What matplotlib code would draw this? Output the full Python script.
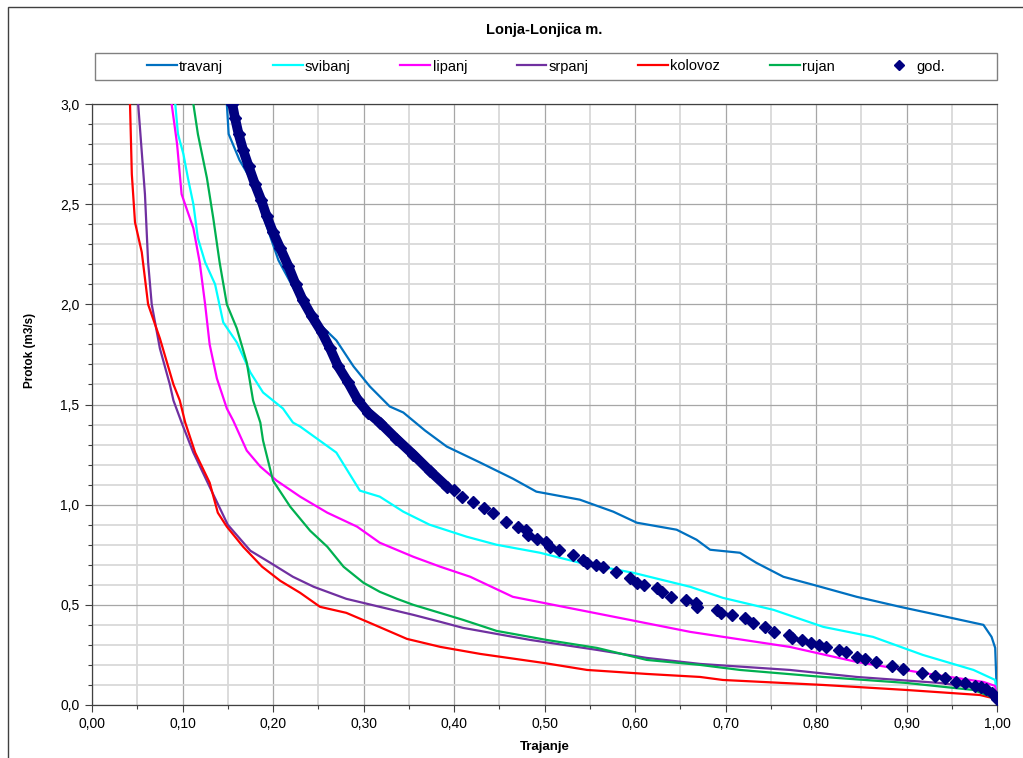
import matplotlib
matplotlib.use("Agg")
import matplotlib.pyplot as plt
from matplotlib.patches import Rectangle
from matplotlib.ticker import MultipleLocator, FuncFormatter

plt.rcParams["font.family"] = ["Liberation Sans", "DejaVu Sans"]

# -----------------------------
# data (duration, flow m3/s)
# -----------------------------
travanj_x = [0.149, 0.151, 0.163, 0.176, 0.187, 0.206, 0.230, 0.254, 0.270, 0.289, 0.307,
             0.329, 0.344, 0.368, 0.392, 0.429, 0.465, 0.491, 0.539, 0.576, 0.602, 0.646,
             0.668, 0.683, 0.716, 0.734, 0.764, 0.797, 0.845, 0.893, 0.929, 0.985, 0.994,
             0.998, 1.0]
travanj_y = [3.0, 2.85, 2.72, 2.62, 2.47, 2.22, 2.02, 1.89, 1.82, 1.69, 1.59,
             1.49, 1.46, 1.37, 1.29, 1.21, 1.13, 1.065, 1.025, 0.965, 0.91, 0.875,
             0.825, 0.775, 0.76, 0.71, 0.64, 0.60, 0.54, 0.49, 0.455, 0.40, 0.34,
             0.285, 0.03]

svibanj_x = [0.092, 0.095, 0.101, 0.106, 0.112, 0.117, 0.125, 0.136, 0.145, 0.160, 0.175,
             0.189, 0.211, 0.222, 0.230, 0.270, 0.296, 0.318, 0.344, 0.373, 0.414, 0.447,
             0.495, 0.539, 0.598, 0.661, 0.697, 0.753, 0.808, 0.863, 0.918, 0.974, 0.998, 1.0]
svibanj_y = [3.0, 2.85, 2.75, 2.63, 2.50, 2.33, 2.21, 2.10, 1.91, 1.81, 1.66,
             1.56, 1.48, 1.41, 1.39, 1.26, 1.07, 1.04, 0.965, 0.90, 0.84, 0.80,
             0.76, 0.71, 0.66, 0.59, 0.535, 0.475, 0.39, 0.34, 0.25, 0.175, 0.125, 0.03]

lipanj_x = [0.088, 0.094, 0.099, 0.112, 0.119, 0.125, 0.130, 0.138, 0.149, 0.156, 0.171,
            0.186, 0.204, 0.230, 0.260, 0.293, 0.318, 0.355, 0.385, 0.418, 0.465, 0.521,
            0.594, 0.661, 0.771, 0.845, 0.918, 0.985, 0.998, 1.0]
lipanj_y = [3.0, 2.80, 2.55, 2.38, 2.21, 2.0, 1.80, 1.63, 1.48, 1.42, 1.27,
            1.19, 1.12, 1.04, 0.96, 0.89, 0.81, 0.74, 0.69, 0.64, 0.54, 0.49,
            0.425, 0.365, 0.29, 0.215, 0.16, 0.115, 0.095, 0.03]

srpanj_x = [0.051, 0.053, 0.0585, 0.062, 0.066, 0.075, 0.086, 0.090, 0.099, 0.112, 0.132,
            0.150, 0.175, 0.197, 0.222, 0.245, 0.281, 0.318, 0.355, 0.385, 0.410,
            0.484, 0.558, 0.613, 0.672, 0.771, 0.845, 0.937, 0.981, 1.0]
srpanj_y = [3.0, 2.88, 2.55, 2.21, 2.0, 1.78, 1.60, 1.52, 1.41, 1.26, 1.07,
            0.90, 0.77, 0.71, 0.64, 0.59, 0.53, 0.49, 0.45, 0.415, 0.385,
            0.325, 0.275, 0.235, 0.205, 0.175, 0.14, 0.11, 0.085, 0.03]

kolovoz_x = [0.042, 0.044, 0.0475, 0.055, 0.062, 0.075, 0.090, 0.097, 0.103, 0.114, 0.130,
             0.139, 0.149, 0.167, 0.188, 0.208, 0.230, 0.252, 0.281, 0.307, 0.348, 0.385,
             0.429, 0.499, 0.547, 0.613, 0.672, 0.697, 0.808, 0.900, 0.981, 1.0]
kolovoz_y = [3.0, 2.65, 2.41, 2.26, 2.0, 1.83, 1.60, 1.52, 1.41, 1.26, 1.11,
             0.96, 0.89, 0.79, 0.69, 0.62, 0.56, 0.49, 0.46, 0.41, 0.33, 0.29,
             0.255, 0.21, 0.175, 0.155, 0.14, 0.125, 0.10, 0.075, 0.05, 0.03]

rujan_x = [0.112, 0.117, 0.127, 0.134, 0.141, 0.149, 0.160, 0.171, 0.178, 0.186, 0.189,
           0.200, 0.219, 0.241, 0.260, 0.278, 0.300, 0.318, 0.337, 0.355, 0.377, 0.410,
           0.447, 0.502, 0.558, 0.613, 0.672, 0.716, 0.808, 0.900, 0.974, 1.0]
rujan_y = [3.0, 2.85, 2.63, 2.43, 2.21, 2.0, 1.88, 1.71, 1.52, 1.41, 1.32,
           1.12, 0.99, 0.87, 0.79, 0.69, 0.61, 0.565, 0.53, 0.50, 0.47, 0.425,
           0.37, 0.325, 0.285, 0.225, 0.20, 0.175, 0.14, 0.11, 0.075, 0.03]

# god. - dense upper part (markers overlap into a band)
god_dense_x = [0.155, 0.158, 0.162, 0.167, 0.173, 0.180, 0.187, 0.193, 0.200, 0.208, 0.217,
               0.225, 0.233, 0.243, 0.254, 0.263, 0.272, 0.283, 0.294, 0.305, 0.318, 0.336,
               0.355, 0.373, 0.392]
god_dense_y = [3.0, 2.93, 2.85, 2.77, 2.69, 2.60, 2.52, 2.44, 2.36, 2.28, 2.19,
               2.10, 2.02, 1.94, 1.86, 1.78, 1.69, 1.61, 1.52, 1.46, 1.41, 1.33,
               1.25, 1.17, 1.09]
# god. - separate markers in the lower part
god_x = [0.400, 0.409, 0.421, 0.433, 0.443, 0.457, 0.471, 0.480, 0.482, 0.492, 0.502,
         0.506, 0.516, 0.532, 0.543, 0.547, 0.557, 0.565, 0.579, 0.595, 0.602, 0.610,
         0.624, 0.630, 0.640, 0.656, 0.667, 0.669, 0.691, 0.695, 0.707, 0.721, 0.730,
         0.744, 0.754, 0.770, 0.774, 0.785, 0.795, 0.803, 0.811, 0.825, 0.833, 0.845,
         0.854, 0.866, 0.884, 0.896, 0.917, 0.931, 0.943, 0.955, 0.965, 0.976, 0.982,
         0.988, 0.994, 1.0]
god_y = [1.073, 1.040, 1.015, 0.982, 0.957, 0.915, 0.887, 0.874, 0.849, 0.827, 0.815,
         0.790, 0.774, 0.749, 0.724, 0.707, 0.699, 0.687, 0.665, 0.632, 0.607, 0.599,
         0.582, 0.566, 0.541, 0.524, 0.507, 0.491, 0.474, 0.458, 0.449, 0.433, 0.408,
         0.391, 0.366, 0.349, 0.333, 0.324, 0.308, 0.300, 0.288, 0.275, 0.266, 0.241,
         0.228, 0.216, 0.195, 0.178, 0.161, 0.145, 0.133, 0.116, 0.108, 0.095, 0.088,
         0.078, 0.061, 0.028]

series = [
    ("travanj", travanj_x, travanj_y, "#0070C0"),
    ("svibanj", svibanj_x, svibanj_y, "#00FFFF"),
    ("lipanj", lipanj_x, lipanj_y, "#FF00FF"),
    ("srpanj", srpanj_x, srpanj_y, "#7030A0"),
    ("kolovoz", kolovoz_x, kolovoz_y, "#FF0000"),
    ("rujan", rujan_x, rujan_y, "#00B050"),
]
GOD_COLOR = "#000080"

# -----------------------------
# figure
# -----------------------------
W, H = 1023, 758
fig = plt.figure(figsize=(W / 100, H / 100), dpi=100)
ax = fig.add_axes([92 / W, 1 - 705 / H, 905 / W, 601 / H])

handles = []
for name, xs, ys, col in series:
    h, = ax.plot(xs, ys, color=col, lw=1.6, label=name, zorder=3)
    handles.append(h)

ax.plot(god_dense_x, god_dense_y, color=GOD_COLOR, lw=7.0, solid_capstyle="round", zorder=4)
ax.plot(god_dense_x, god_dense_y, ls="none", marker="D", ms=6.5, color=GOD_COLOR, zorder=4)
hg, = ax.plot(god_x, god_y, ls="none", marker="D", ms=6.5, color=GOD_COLOR, label="god.", zorder=4)
handles.append(hg)

ax.set_xlim(0, 1.0)
ax.set_ylim(0, 3.0)
ax.xaxis.set_major_locator(MultipleLocator(0.1))
ax.xaxis.set_minor_locator(MultipleLocator(0.05))
ax.yaxis.set_major_locator(MultipleLocator(0.5))
ax.yaxis.set_minor_locator(MultipleLocator(0.1))
ax.xaxis.set_major_formatter(FuncFormatter(lambda v, p: f"{v:.2f}".replace(".", ",")))
ax.yaxis.set_major_formatter(FuncFormatter(lambda v, p: f"{v:.1f}".replace(".", ",")))

ax.grid(which="major", color="#a6a6a6", lw=0.9, zorder=0)
ax.grid(which="minor", color="#d9d9d9", lw=1.3, zorder=0)
ax.set_axisbelow(True)

ax.tick_params(which="major", length=5, width=0.8, color="#404040", labelsize=10,
               labelcolor="black", pad=4)
ax.tick_params(which="minor", length=3, width=0.8, color="#404040")
for side in ["left", "bottom", "top"]:
    ax.spines[side].set_color("#404040")
    ax.spines[side].set_linewidth(0.9)
ax.spines["right"].set_color("#909090")

ax.set_xlabel("Trajanje", fontsize=9.5, fontweight="bold", labelpad=7)
fig.text(30 / W, 1 - 350 / H, "Protok (m3/s)", rotation=90, ha="center", va="center",
         fontsize=8.5, fontweight="bold")

fig.text(544 / W, 1 - 30 / H, "Lonja-Lonjica m.", ha="center", va="center",
         fontsize=10.5, fontweight="bold")

# legend box + entries
fig.patches.append(Rectangle((95 / W, 1 - 80 / H), 902 / W, 27 / H,
                             transform=fig.transFigure, fill=False,
                             edgecolor="#808080", lw=1.0))
fig.legend(handles=handles, ncol=7, loc="center", bbox_to_anchor=(546 / W, 1 - 66.5 / H),
           frameon=False, fontsize=10.5, handlelength=2.05, handletextpad=0.15,
           columnspacing=3.4, borderaxespad=0, markerscale=0.85)

# outer chart border
fig.patches.append(Rectangle((8 / W, -0.01), 1.02, 1 - 7 / H + 0.01,
                             transform=fig.transFigure, fill=False,
                             edgecolor="#404040", lw=1.0))

fig.savefig("out.png", dpi=100)
